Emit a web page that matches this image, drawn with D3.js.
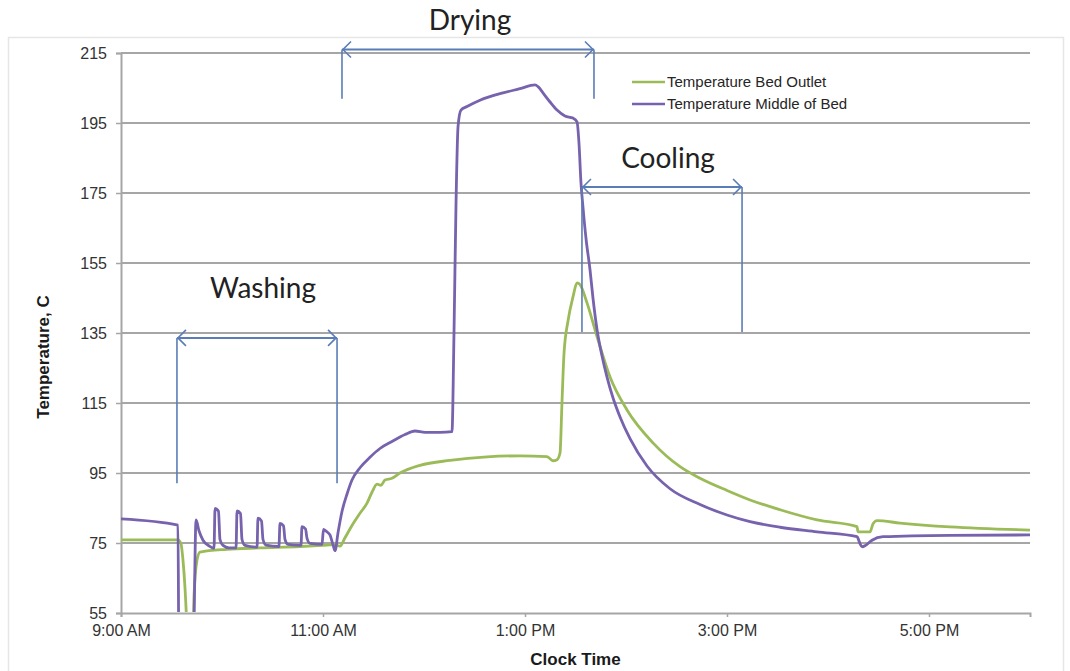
<!DOCTYPE html>
<html>
<head>
<meta charset="utf-8">
<script src="https://cdn.jsdelivr.net/npm/d3@7"></script>
<style>
  html, body { margin: 0; padding: 0; background: #ffffff; }
  svg { display: block; }
  .tick-label { font-family: "Liberation Sans", Arial, sans-serif; font-size: 16px; fill: #333333; }
  .axis-title { font-family: "Liberation Sans", Arial, sans-serif; font-size: 17px; font-weight: bold; fill: #1a1a1a; }
  .legend-text { font-family: "Liberation Sans", Arial, sans-serif; font-size: 15px; fill: #262626; }
  .phase-text { font-family: Lato, "Open Sans", sans-serif; font-size: 28px; fill: #222222; }
</style>
</head>
<body>
<svg id="chart" width="1070" height="671"></svg>
<script>
// Clock time in decimal hours (9 = 9:00 AM, 13.5 = 1:30 PM)
const outletTime = [9.000, 9.564, 9.594, 9.614, 9.634, 9.653, 9.663, 9.703, 9.723, 9.752, 9.782,
  10.050, 10.376, 10.772, 11.040, 11.119, 11.168, 11.218, 11.287, 11.366, 11.436, 11.485, 11.535,
  11.574, 11.614, 11.683, 11.762, 11.960, 12.257, 12.624, 12.950, 13.218, 13.277, 13.317, 13.347,
  13.366, 13.386, 13.426, 13.475, 13.515, 13.545, 13.614, 13.713, 13.842, 14.010, 14.267, 14.535,
  14.733, 15.000, 15.228, 15.525, 15.891, 16.287, 16.297, 16.416, 16.446, 16.485, 16.713, 17.208, 18.000];
// Temperature Bed Outlet, °C
const outletTemp = [75.9, 75.9, 74.8, 70, 62, 50, 40, 40, 60, 70, 72.4,
  73.2, 73.6, 74.0, 74.4, 74.5, 74.1, 76.5, 80, 83.5, 86.4, 89.5, 91.8,
  91.5, 93, 93.5, 95, 97.2, 98.6, 99.6, 99.9, 99.7, 98.5, 98.8, 100.8,
  115, 129, 138.5, 145.3, 149.3, 148.8, 143.6, 134, 122.4, 113, 103.6, 96.8,
  93.5, 90, 87.3, 84.5, 81.6, 79.7, 78.2, 78.2, 80.5, 81.4, 80.7, 79.6, 78.7];

const middleTime = [9.000, 9.564, 9.574, 9.713, 9.743, 9.772, 9.812, 9.871, 9.921,
  9.931, 9.965, 9.980, 10.010, 10.069, 10.139, 10.149, 10.183, 10.198, 10.228,
  10.347, 10.356, 10.391, 10.406, 10.436, 10.564, 10.574, 10.609, 10.624, 10.654,
  10.782, 10.792, 10.827, 10.842, 10.871, 10.990, 11.005, 11.030, 11.069, 11.099,
  11.119, 11.149, 11.188, 11.238, 11.287, 11.366, 11.465, 11.564, 11.683, 11.812,
  11.911, 12.010, 12.158, 12.277, 12.297, 12.317, 12.337, 12.366, 12.426, 12.554,
  12.782, 12.950, 13.099, 13.129, 13.178, 13.248, 13.317, 13.396, 13.475, 13.515,
  13.535, 13.554, 13.574, 13.604, 13.644, 13.673, 13.713, 13.762, 13.812, 13.871,
  13.941, 14.040, 14.208, 14.436, 14.733, 15.000, 15.228, 15.525, 15.891, 16.287,
  16.317, 16.337, 16.376, 16.436, 16.545, 17.208, 18.000];
// Temperature Middle of Bed, °C
const middleTemp = [81.9, 80.1, 40, 40, 81.6, 78.5, 75.8, 74.2, 73.5,
  84.9, 84.1, 76, 74.3, 73.6, 73.6, 84.2, 83.4, 76, 74.3,
  73.8, 82.1, 81.3, 76, 74.4, 74.0, 80.6, 79.9, 76, 74.6,
  74.3, 79.7, 79.0, 76.3, 74.9, 74.6, 78.9, 78.4, 77.3, 74.5,
  72.8, 78, 84, 89, 93, 96.5, 99.5, 102, 104, 106,
  107, 106.6, 106.6, 106.8, 135, 172, 194, 198.7, 199.7, 201.5,
  203.6, 204.8, 205.9, 205.4, 203.6, 201, 198.7, 197, 196.4, 195.3,
  189, 178, 171, 162, 153, 145, 136, 128.5, 122.4, 116.5,
  111, 104.8, 97, 90.5, 86, 83, 81.1, 79.5, 78.2, 76.8,
  74.8, 73.9, 74.4, 75.8, 76.8, 77.2, 77.3];

const seriesNames = ["Temperature Bed Outlet", "Temperature Middle of Bed"];
const yTicks = [55, 75, 95, 115, 135, 155, 175, 195, 215];
const xTickHours = [9, 11, 13, 15, 17];

// Process phases: name, start and end (decimal hours)
const phaseNames = ["Washing", "Drying", "Cooling"];
const phaseStart = [9.554, 11.188, 13.564];
const phaseEnd = [11.139, 13.683, 15.149];

// ---------------------------------------------------------------
const svg = d3.select("#chart");
const plot = { left: 121, right: 1030, top: 53, bottom: 613 };

const baseDay = new Date(2000, 0, 1);
const toDate = h => new Date(baseDay.getTime() + h * 3600e3);

const x = d3.scaleTime()
  .domain([toDate(9), toDate(18)])
  .range([plot.left, plot.right]);
const y = d3.scaleLinear()
  .domain([55, 215])
  .range([plot.bottom, plot.top]);

// faint frame around the chart area
svg.append("rect")
  .attr("x", 8.5).attr("y", 37.5)
  .attr("width", 1055).attr("height", 660)
  .attr("fill", "none").attr("stroke", "#e6e6e6").attr("stroke-width", 1.5);

// horizontal gridlines
svg.append("g").selectAll("line")
  .data(yTicks.filter(t => t !== 55))
  .join("line")
  .attr("x1", plot.left).attr("x2", plot.right)
  .attr("y1", d => y(d)).attr("y2", d => y(d))
  .attr("stroke", "#a6a6a6").attr("stroke-width", 2);

// y axis
const yAxis = svg.append("g")
  .attr("transform", `translate(${plot.left},0)`)
  .call(d3.axisLeft(y).tickValues(yTicks).tickSize(5).tickPadding(9).tickFormat(d3.format("d")));
yAxis.select(".domain").attr("stroke", "#a6a6a6").attr("stroke-width", 2);
yAxis.selectAll(".tick line").attr("stroke", "#a6a6a6").attr("stroke-width", 1.5);
yAxis.selectAll(".tick text").attr("class", "tick-label");
yAxis.attr("font-size", null).attr("font-family", null);

// x axis
const timeFmt = d3.timeFormat("%-I:%M %p");
const xAxis = svg.append("g")
  .attr("transform", `translate(0,${plot.bottom})`)
  .call(d3.axisBottom(x).tickValues(xTickHours.map(toDate)).tickSize(4).tickPadding(8).tickFormat(timeFmt));
xAxis.select(".domain").attr("stroke", "#a6a6a6").attr("stroke-width", 2);
xAxis.selectAll(".tick line").attr("stroke", "#a6a6a6").attr("stroke-width", 1.5);
xAxis.selectAll(".tick text").attr("class", "tick-label");
xAxis.attr("font-size", null).attr("font-family", null);

// axis titles
svg.append("text")
  .attr("class", "axis-title")
  .attr("x", (plot.left + plot.right) / 2)
  .attr("y", 665)
  .attr("text-anchor", "middle")
  .text("Clock Time");
svg.append("text")
  .attr("class", "axis-title")
  .attr("transform", "translate(49,357) rotate(-90)")
  .attr("text-anchor", "middle")
  .text("Temperature, C");

// data lines, clipped to the plot area
svg.append("clipPath").attr("id", "plot-clip")
  .append("rect")
  .attr("x", plot.left).attr("y", plot.top - 10)
  .attr("width", plot.right - plot.left + 2)
  .attr("height", plot.bottom - plot.top + 9);

const line = d3.line()
  .x(d => x(toDate(d[0])))
  .y(d => y(d[1]))
  .curve(d3.curveMonotoneX);

const colors = ["#9bbb59", "#7762ae"];
const series = [
  d3.zip(outletTime, outletTemp),
  d3.zip(middleTime, middleTemp)
];

const lines = svg.append("g").attr("clip-path", "url(#plot-clip)");
series.forEach((s, i) => {
  lines.append("path")
    .datum(s)
    .attr("d", line)
    .attr("fill", "none")
    .attr("stroke", colors[i])
    .attr("stroke-width", 2.8)
    .attr("stroke-linejoin", "round");
});

// legend
const legend = svg.append("g");
seriesNames.forEach((name, i) => {
  const ly = 82 + i * 22;
  legend.append("line")
    .attr("x1", 632).attr("x2", 665)
    .attr("y1", ly).attr("y2", ly)
    .attr("stroke", colors[i]).attr("stroke-width", 2.6);
  legend.append("text")
    .attr("class", "legend-text")
    .attr("x", 667).attr("y", ly + 5)
    .text(name);
});

// phase brackets: double-headed arrow with vertical markers
const annColor = "#5b7db6";
const phaseLayout = [
  { arrowT: 133.6, dropT: 92.1, labelX: 263, labelY: 298 },
  { arrowT: 216.0, dropT: 201.9, labelX: 470, labelY: 30 },
  { arrowT: 176.7, dropT: 135.3, labelX: 668, labelY: 168 }
];
const ann = svg.append("g")
  .attr("stroke", annColor).attr("stroke-width", 1.6).attr("fill", "none");
phaseNames.forEach((name, i) => {
  const L = phaseLayout[i];
  const x0 = x(toDate(phaseStart[i])), x1 = x(toDate(phaseEnd[i]));
  const ya = y(L.arrowT), yb = y(L.dropT);
  ann.append("line").attr("x1", x0).attr("x2", x0).attr("y1", ya).attr("y2", yb);
  ann.append("line").attr("x1", x1).attr("x2", x1).attr("y1", ya).attr("y2", yb);
  ann.append("line").attr("x1", x0).attr("x2", x1).attr("y1", ya).attr("y2", ya).attr("stroke-width", 2);
  ann.append("polyline").attr("points", `${x0 + 9},${ya - 8} ${x0 + 1},${ya} ${x0 + 9},${ya + 8}`);
  ann.append("polyline").attr("points", `${x1 - 9},${ya - 8} ${x1 - 1},${ya} ${x1 - 9},${ya + 8}`);
  svg.append("text")
    .attr("class", "phase-text")
    .attr("x", L.labelX).attr("y", L.labelY)
    .attr("text-anchor", "middle")
    .text(name);
});
</script>
</body>
</html>
